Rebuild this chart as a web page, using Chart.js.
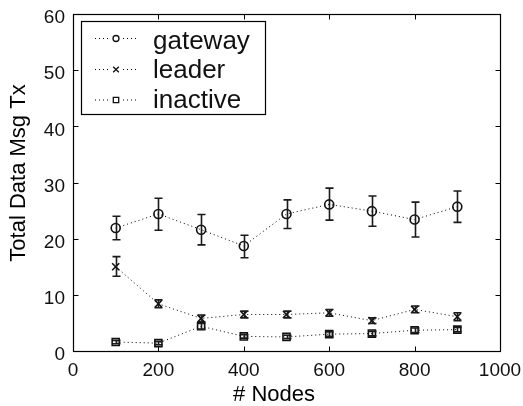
<!DOCTYPE html>
<html>
<head>
<meta charset="utf-8">
<script src="https://cdn.jsdelivr.net/npm/chart.js@4.4.1/dist/chart.umd.min.js"></script>
<style>
html,body{margin:0;padding:0;background:#fff;}
canvas{display:block;}
</style>
</head>
<body>
<canvas id="c" width="523" height="406"></canvas>
<script>
// ---- data ----
const nodes = [100, 200, 300, 400, 500, 600, 700, 800, 900];
const gatewayMean = [21.9, 24.4, 21.6, 18.7, 24.4, 26.1, 24.9, 23.4, 25.7];
const gatewayLow  = [19.8, 21.5, 18.9, 16.6, 21.8, 23.3, 22.2, 20.3, 22.9];
const gatewayHigh = [24.0, 27.2, 24.3, 20.6, 26.9, 29.0, 27.6, 26.5, 28.5];
const leaderMean = [15.0, 8.4, 5.8, 6.5, 6.5, 6.8, 5.4, 7.4, 6.1];
const leaderLow  = [13.3, 7.7, 5.2, 5.9, 5.9, 6.2, 4.9, 6.8, 5.4];
const leaderHigh = [16.8, 9.1, 6.4, 7.1, 7.1, 7.4, 5.9, 8.0, 6.8];
const inactiveMean = [1.6, 1.4, 4.4, 2.6, 2.5, 3.0, 3.1, 3.7, 3.8];
const inactiveLow  = [1.3, 1.1, 3.9, 2.3, 2.2, 2.6, 2.7, 3.3, 3.4];
const inactiveHigh = [1.9, 1.7, 4.9, 2.9, 2.8, 3.4, 3.5, 4.1, 4.2];
const seriesNames = ['gateway', 'leader', 'inactive'];
const xTickValues = [0, 200, 400, 600, 800, 1000];
const yTickValues = [0, 10, 20, 30, 40, 50, 60];
const xTitle = '# Nodes';
const yTitle = 'Total Data Msg Tx';

const FONT = '"Liberation Sans", Arial, Helvetica, sans-serif';
const errs = [
  {low: gatewayLow, high: gatewayHigh},
  {low: leaderLow, high: leaderHigh},
  {low: inactiveLow, high: inactiveHigh}
];
const styles = [
  {pointStyle: 'circle', radius: 4.5, lr: 3},
  {pointStyle: 'crossRot', radius: 5, lr: 4},
  {pointStyle: 'rect', radius: 5, lr: 3.8}
];
const means = [gatewayMean, leaderMean, inactiveMean];

function mk(i) {
  return {
    label: seriesNames[i],
    data: nodes.map((x, j) => ({x: x, y: means[i][j]})),
    borderColor: '#000',
    borderWidth: 1,
    borderDash: [1, 3],
    backgroundColor: 'rgba(0,0,0,0)',
    pointStyle: styles[i].pointStyle,
    pointRadius: styles[i].radius,
    pointBorderColor: '#111',
    pointBorderWidth: 1.6,
    pointBackgroundColor: 'rgba(0,0,0,0)',
    tension: 0,
    fill: false
  };
}

const decor = {
  id: 'decor',
  afterDatasetsDraw(chart) {
    const ctx = chart.ctx;
    const xs = chart.scales.x, ys = chart.scales.y;
    const a = chart.chartArea;
    ctx.save();
    // error bars
    ctx.strokeStyle = '#1a1a1a';
    ctx.lineWidth = 1.6;
    chart.data.datasets.forEach((ds, i) => {
      const meta = chart.getDatasetMeta(i);
      meta.data.forEach((pt, j) => {
        const px = Math.round(pt.x) + 0.5;
        const lo = ys.getPixelForValue(errs[i].low[j]);
        const hi = ys.getPixelForValue(errs[i].high[j]);
        ctx.beginPath();
        ctx.moveTo(px, lo); ctx.lineTo(px, hi);
        ctx.moveTo(px - 4, lo); ctx.lineTo(px + 4, lo);
        ctx.moveTo(px - 4, hi); ctx.lineTo(px + 4, hi);
        ctx.stroke();
      });
    });
    // frame
    ctx.strokeStyle = '#000';
    ctx.lineWidth = 1.2;
    const L = Math.round(a.left) + 0.5, R = Math.round(a.right) + 0.5;
    const T = Math.round(a.top) + 0.5, B = Math.round(a.bottom) + 0.5;
    ctx.strokeRect(L, T, R - L, B - T);
    // inward ticks
    ctx.lineWidth = 1;
    ctx.beginPath();
    xTickValues.forEach(v => {
      const p = Math.round(xs.getPixelForValue(v)) + 0.5;
      ctx.moveTo(p, B); ctx.lineTo(p, B - 5);
      ctx.moveTo(p, T); ctx.lineTo(p, T + 5);
    });
    yTickValues.forEach(v => {
      const p = Math.round(ys.getPixelForValue(v)) + 0.5;
      ctx.moveTo(L, p); ctx.lineTo(L + 5, p);
      ctx.moveTo(R, p); ctx.lineTo(R - 5, p);
    });
    ctx.stroke();
    // axis titles
    ctx.fillStyle = '#000';
    ctx.font = '22px ' + FONT;
    ctx.textAlign = 'center';
    ctx.textBaseline = 'alphabetic';
    ctx.fillText(xTitle, 274, 401);
    ctx.save();
    ctx.translate(25, 173);
    ctx.rotate(-Math.PI / 2);
    ctx.fillText(yTitle, 0, 0);
    ctx.restore();
    // legend
    ctx.fillStyle = '#fff';
    ctx.fillRect(81.5, 21.5, 184, 93);
    ctx.strokeStyle = '#000';
    ctx.lineWidth = 1.2;
    ctx.strokeRect(81.5, 21.5, 184, 93);
    const rowsMarker = [38.5, 69.5, 100];
    const rowsText = [48.5, 77.5, 107.5];
    chart.data.datasets.forEach((ds, i) => {
      const y = rowsMarker[i];
      ctx.save();
      ctx.strokeStyle = '#000';
      ctx.lineWidth = 1;
      ctx.setLineDash([1, 3]);
      ctx.beginPath();
      ctx.moveTo(95, y); ctx.lineTo(138, y);
      ctx.stroke();
      ctx.restore();
      ctx.fillStyle = '#fff';
      ctx.fillRect(110, y - 5, 12, 10);
      ctx.strokeStyle = '#111';
      ctx.lineWidth = 1.3;
      Chart.helpers.drawPoint(ctx, {pointStyle: styles[i].pointStyle, radius: styles[i].lr, rotation: 0, borderWidth: 1.3}, 116, y);
      ctx.fillStyle = '#111';
      ctx.font = '26px ' + FONT;
      ctx.textAlign = 'left';
      ctx.fillText(ds.label, 153, rowsText[i]);
    });
    ctx.restore();
  }
};

new Chart(document.getElementById('c'), {
  type: 'line',
  data: {datasets: [mk(0), mk(1), mk(2)]},
  options: {
    responsive: false,
    animation: false,
    layout: {padding: {left: 0, top: 14, right: 23, bottom: 0}},
    plugins: {legend: {display: false}, tooltip: {enabled: false}},
    scales: {
      x: {
        type: 'linear', min: 0, max: 1000,
        afterBuildTicks: s => { s.ticks = xTickValues.map(v => ({value: v})); },
        afterFit: s => { s.height = 55; s.paddingLeft = 0; s.paddingRight = 0; },
        grid: {display: false, drawTicks: false},
        border: {display: false},
        ticks: {color: '#111', font: {family: FONT, size: 19}, padding: 8, maxRotation: 0,
                callback: v => String(v)}
      },
      y: {
        type: 'linear', min: 0, max: 60,
        afterBuildTicks: s => { s.ticks = yTickValues.map(v => ({value: v})); },
        afterFit: s => { s.width = 73; s.paddingTop = 0; s.paddingBottom = 0; },
        grid: {display: false, drawTicks: false},
        border: {display: false},
        ticks: {color: '#111', font: {family: FONT, size: 19}, padding: 8, labelOffset: 4,
                callback: v => String(v)}
      }
    }
  },
  plugins: [decor]
});
</script>
</body>
</html>
